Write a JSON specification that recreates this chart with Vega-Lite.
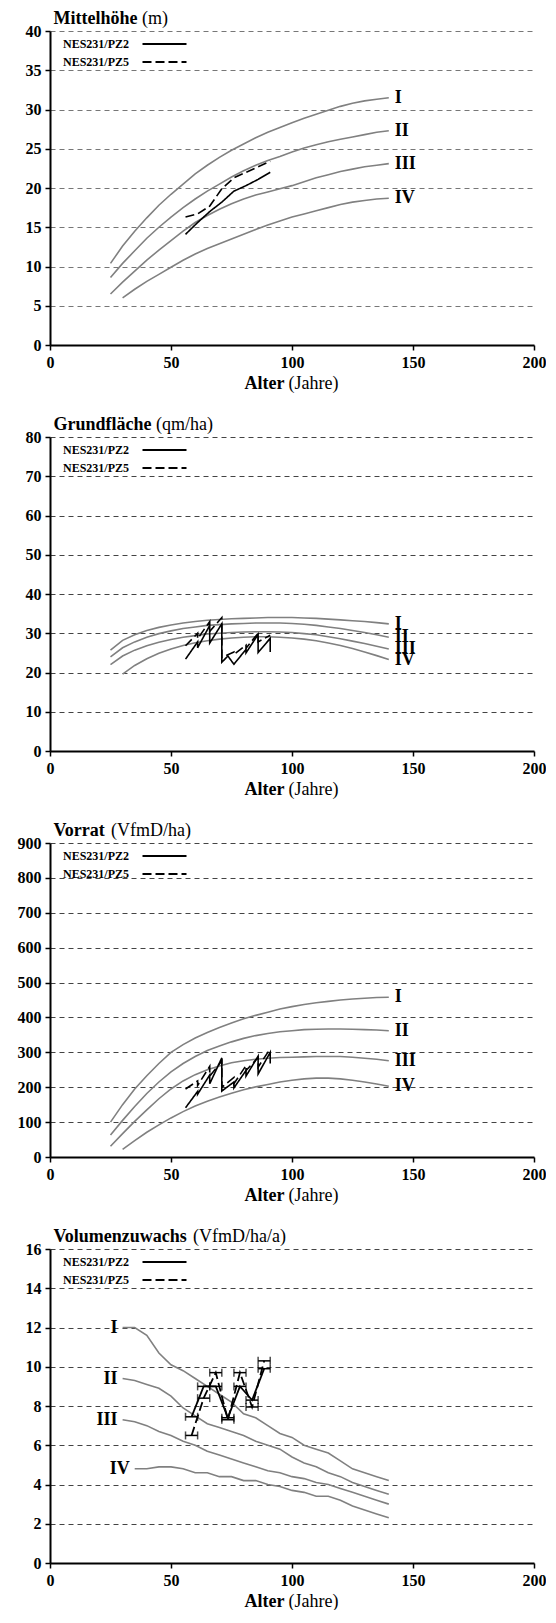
{
"$schema": "https://vega.github.io/schema/vega-lite/v6.json",
"padding": {"left": 17, "top": 9, "right": 0, "bottom": 0},
"background": "white",
"config": {
 "font": "Liberation Serif",
 "view": {"stroke": null},
 "axis": {"labelFont": "Liberation Serif", "labelFontWeight": "bold", "labelFontSize": 16, "labelColor": "black", "domainColor": "black", "domainWidth": 2, "tickColor": "black", "tickWidth": 1.5, "tickSize": 5, "labelPadding": 4, "titleFont": "Liberation Serif", "titleFontSize": 18, "titleColor": "black"},
 "axisX": {"grid": false, "labelFlush": false, "labelFont": "Liberation Serif", "titleFont": "Liberation Serif"},
 "axisY": {"grid": true, "gridDash": [5, 4], "gridColor": "#444", "gridWidth": 1, "labelFont": "Liberation Serif", "titleFont": "Liberation Serif"},
 "text": {"font": "Liberation Serif", "fontSize": 18, "fontWeight": "bold", "color": "black"},
 "legend": {"orient": "none", "legendX": 108, "legendY": 6.5, "title": null, "symbolType": "M-4,0H4", "symbolSize": 121, "symbolStrokeWidth": 2, "symbolStrokeColor": "black", "symbolFillColor": "transparent", "labelOffset": -42, "labelAlign": "right", "labelFont": "Liberation Serif", "labelFontSize": 12, "labelFontWeight": "bold", "labelColor": "black", "rowPadding": 5, "padding": 0}
},
"datasets": {
 "h_c": [
  {"k":"I","a":25,"v":10.4},{"k":"I","a":30,"v":12.6},{"k":"I","a":35,"v":14.5},{"k":"I","a":40,"v":16.2},{"k":"I","a":45,"v":17.8},{"k":"I","a":50,"v":19.2},{"k":"I","a":55,"v":20.5},{"k":"I","a":60,"v":21.8},{"k":"I","a":65,"v":22.9},{"k":"I","a":70,"v":23.9},{"k":"I","a":75,"v":24.8},{"k":"I","a":80,"v":25.6},{"k":"I","a":85,"v":26.4},{"k":"I","a":90,"v":27.1},{"k":"I","a":95,"v":27.7},{"k":"I","a":100,"v":28.3},{"k":"I","a":105,"v":28.9},{"k":"I","a":110,"v":29.4},{"k":"I","a":115,"v":29.9},{"k":"I","a":120,"v":30.4},{"k":"I","a":125,"v":30.8},{"k":"I","a":130,"v":31.1},{"k":"I","a":135,"v":31.3},{"k":"I","a":140,"v":31.5},
  {"k":"II","a":25,"v":8.6},{"k":"II","a":30,"v":10.4},{"k":"II","a":35,"v":12.0},{"k":"II","a":40,"v":13.6},{"k":"II","a":45,"v":15.0},{"k":"II","a":50,"v":16.3},{"k":"II","a":55,"v":17.5},{"k":"II","a":60,"v":18.6},{"k":"II","a":65,"v":19.6},{"k":"II","a":70,"v":20.5},{"k":"II","a":75,"v":21.4},{"k":"II","a":80,"v":22.2},{"k":"II","a":85,"v":22.9},{"k":"II","a":90,"v":23.5},{"k":"II","a":95,"v":24.0},{"k":"II","a":100,"v":24.6},{"k":"II","a":105,"v":25.1},{"k":"II","a":110,"v":25.5},{"k":"II","a":115,"v":25.9},{"k":"II","a":120,"v":26.2},{"k":"II","a":125,"v":26.5},{"k":"II","a":130,"v":26.8},{"k":"II","a":135,"v":27.1},{"k":"II","a":140,"v":27.3},
  {"k":"III","a":25,"v":6.5},{"k":"III","a":30,"v":8.0},{"k":"III","a":35,"v":9.4},{"k":"III","a":40,"v":10.8},{"k":"III","a":45,"v":12.1},{"k":"III","a":50,"v":13.3},{"k":"III","a":55,"v":14.5},{"k":"III","a":60,"v":15.6},{"k":"III","a":65,"v":16.5},{"k":"III","a":70,"v":17.3},{"k":"III","a":75,"v":18.0},{"k":"III","a":80,"v":18.6},{"k":"III","a":85,"v":19.1},{"k":"III","a":90,"v":19.5},{"k":"III","a":95,"v":19.9},{"k":"III","a":100,"v":20.3},{"k":"III","a":105,"v":20.8},{"k":"III","a":110,"v":21.3},{"k":"III","a":115,"v":21.7},{"k":"III","a":120,"v":22.1},{"k":"III","a":125,"v":22.4},{"k":"III","a":130,"v":22.7},{"k":"III","a":135,"v":22.9},{"k":"III","a":140,"v":23.1},
  {"k":"IV","a":30,"v":6.0},{"k":"IV","a":35,"v":7.1},{"k":"IV","a":40,"v":8.1},{"k":"IV","a":45,"v":9.0},{"k":"IV","a":50,"v":9.9},{"k":"IV","a":55,"v":10.8},{"k":"IV","a":60,"v":11.6},{"k":"IV","a":65,"v":12.3},{"k":"IV","a":70,"v":12.9},{"k":"IV","a":75,"v":13.5},{"k":"IV","a":80,"v":14.1},{"k":"IV","a":85,"v":14.7},{"k":"IV","a":90,"v":15.3},{"k":"IV","a":95,"v":15.8},{"k":"IV","a":100,"v":16.3},{"k":"IV","a":105,"v":16.7},{"k":"IV","a":110,"v":17.1},{"k":"IV","a":115,"v":17.5},{"k":"IV","a":120,"v":17.9},{"k":"IV","a":125,"v":18.2},{"k":"IV","a":130,"v":18.4},{"k":"IV","a":135,"v":18.6},{"k":"IV","a":140,"v":18.7}
 ],
 "h_p": [
  {"s":"NES231/PZ2","o":1,"a":56,"v":14.1},{"s":"NES231/PZ2","o":2,"a":61,"v":15.6},{"s":"NES231/PZ2","o":3,"a":66,"v":17.0},{"s":"NES231/PZ2","o":4,"a":71,"v":18.2},{"s":"NES231/PZ2","o":5,"a":76,"v":19.6},{"s":"NES231/PZ2","o":6,"a":81,"v":20.3},{"s":"NES231/PZ2","o":7,"a":86,"v":21.1},{"s":"NES231/PZ2","o":8,"a":91,"v":22.0},
  {"s":"NES231/PZ5","o":1,"a":56,"v":16.3},{"s":"NES231/PZ5","o":2,"a":61,"v":16.7},{"s":"NES231/PZ5","o":3,"a":66,"v":17.7},{"s":"NES231/PZ5","o":4,"a":71,"v":19.9},{"s":"NES231/PZ5","o":5,"a":76,"v":21.3},{"s":"NES231/PZ5","o":6,"a":81,"v":22.0},{"s":"NES231/PZ5","o":7,"a":86,"v":22.7},{"s":"NES231/PZ5","o":8,"a":91,"v":23.4}
 ],
 "g_c": [
  {"k":"I","a":25,"v":25.7},{"k":"I","a":30,"v":28.2},{"k":"I","a":35,"v":29.6},{"k":"I","a":40,"v":30.7},{"k":"I","a":45,"v":31.5},{"k":"I","a":50,"v":32.1},{"k":"I","a":55,"v":32.6},{"k":"I","a":60,"v":33.0},{"k":"I","a":65,"v":33.3},{"k":"I","a":70,"v":33.5},{"k":"I","a":75,"v":33.7},{"k":"I","a":80,"v":33.8},{"k":"I","a":85,"v":33.9},{"k":"I","a":90,"v":34.0},{"k":"I","a":95,"v":34.0},{"k":"I","a":100,"v":34.0},{"k":"I","a":105,"v":33.9},{"k":"I","a":110,"v":33.8},{"k":"I","a":115,"v":33.6},{"k":"I","a":120,"v":33.4},{"k":"I","a":125,"v":33.2},{"k":"I","a":130,"v":33.0},{"k":"I","a":135,"v":32.7},{"k":"I","a":140,"v":32.4},
  {"k":"II","a":25,"v":24.0},{"k":"II","a":30,"v":26.3},{"k":"II","a":35,"v":27.8},{"k":"II","a":40,"v":29.0},{"k":"II","a":45,"v":29.9},{"k":"II","a":50,"v":30.6},{"k":"II","a":55,"v":31.2},{"k":"II","a":60,"v":31.6},{"k":"II","a":65,"v":32.0},{"k":"II","a":70,"v":32.2},{"k":"II","a":75,"v":32.4},{"k":"II","a":80,"v":32.5},{"k":"II","a":85,"v":32.6},{"k":"II","a":90,"v":32.6},{"k":"II","a":95,"v":32.6},{"k":"II","a":100,"v":32.5},{"k":"II","a":105,"v":32.3},{"k":"II","a":110,"v":32.0},{"k":"II","a":115,"v":31.6},{"k":"II","a":120,"v":31.2},{"k":"II","a":125,"v":30.7},{"k":"II","a":130,"v":30.2},{"k":"II","a":135,"v":29.6},{"k":"II","a":140,"v":29.0},
  {"k":"III","a":25,"v":22.0},{"k":"III","a":30,"v":24.2},{"k":"III","a":35,"v":25.7},{"k":"III","a":40,"v":26.8},{"k":"III","a":45,"v":27.7},{"k":"III","a":50,"v":28.4},{"k":"III","a":55,"v":29.0},{"k":"III","a":60,"v":29.4},{"k":"III","a":65,"v":29.8},{"k":"III","a":70,"v":30.0},{"k":"III","a":75,"v":30.2},{"k":"III","a":80,"v":30.3},{"k":"III","a":85,"v":30.4},{"k":"III","a":90,"v":30.4},{"k":"III","a":95,"v":30.3},{"k":"III","a":100,"v":30.2},{"k":"III","a":105,"v":29.9},{"k":"III","a":110,"v":29.6},{"k":"III","a":115,"v":29.1},{"k":"III","a":120,"v":28.6},{"k":"III","a":125,"v":28.0},{"k":"III","a":130,"v":27.4},{"k":"III","a":135,"v":26.7},{"k":"III","a":140,"v":26.0},
  {"k":"IV","a":30,"v":19.6},{"k":"IV","a":35,"v":21.8},{"k":"IV","a":40,"v":23.5},{"k":"IV","a":45,"v":24.9},{"k":"IV","a":50,"v":26.0},{"k":"IV","a":55,"v":26.9},{"k":"IV","a":60,"v":27.6},{"k":"IV","a":65,"v":28.1},{"k":"IV","a":70,"v":28.5},{"k":"IV","a":75,"v":28.8},{"k":"IV","a":80,"v":29.0},{"k":"IV","a":85,"v":29.1},{"k":"IV","a":90,"v":29.1},{"k":"IV","a":95,"v":29.0},{"k":"IV","a":100,"v":28.8},{"k":"IV","a":105,"v":28.5},{"k":"IV","a":110,"v":28.1},{"k":"IV","a":115,"v":27.5},{"k":"IV","a":120,"v":26.9},{"k":"IV","a":125,"v":26.1},{"k":"IV","a":130,"v":25.2},{"k":"IV","a":135,"v":24.3},{"k":"IV","a":140,"v":23.3}
 ],
 "g_p": [
  {"s":"NES231/PZ2","o":1,"a":56,"v":23.4},{"s":"NES231/PZ2","o":2,"a":61,"v":27.8},{"s":"NES231/PZ2","o":3,"a":61,"v":26.3},{"s":"NES231/PZ2","o":4,"a":66,"v":32.0},{"s":"NES231/PZ2","o":5,"a":66,"v":27.5},{"s":"NES231/PZ2","o":6,"a":71,"v":32.4},{"s":"NES231/PZ2","o":7,"a":71,"v":22.6},{"s":"NES231/PZ2","o":8,"a":73.5,"v":24.2},{"s":"NES231/PZ2","o":9,"a":76,"v":22.1},{"s":"NES231/PZ2","o":10,"a":81,"v":25.9},{"s":"NES231/PZ2","o":11,"a":81,"v":25.0},{"s":"NES231/PZ2","o":12,"a":86,"v":29.7},{"s":"NES231/PZ2","o":13,"a":86,"v":25.1},{"s":"NES231/PZ2","o":14,"a":91,"v":28.7},{"s":"NES231/PZ2","o":15,"a":91,"v":25.2},
  {"s":"NES231/PZ5","o":1,"a":56,"v":26.8},{"s":"NES231/PZ5","o":2,"a":61,"v":30.0},{"s":"NES231/PZ5","o":3,"a":61,"v":28.6},{"s":"NES231/PZ5","o":4,"a":66,"v":33.0},{"s":"NES231/PZ5","o":5,"a":66,"v":30.5},{"s":"NES231/PZ5","o":6,"a":71,"v":34.0},{"s":"NES231/PZ5","o":7,"a":71,"v":23.8},{"s":"NES231/PZ5","o":8,"a":76,"v":25.2},{"s":"NES231/PZ5","o":9,"a":76,"v":24.6},{"s":"NES231/PZ5","o":10,"a":81,"v":27.0},{"s":"NES231/PZ5","o":11,"a":81,"v":26.2},{"s":"NES231/PZ5","o":12,"a":86,"v":30.0},{"s":"NES231/PZ5","o":13,"a":86,"v":27.8},{"s":"NES231/PZ5","o":14,"a":91,"v":29.5}
 ],
 "v_c": [
  {"k":"I","a":25,"v":100},{"k":"I","a":30,"v":150},{"k":"I","a":35,"v":195},{"k":"I","a":40,"v":233},{"k":"I","a":45,"v":268},{"k":"I","a":50,"v":300},{"k":"I","a":55,"v":322},{"k":"I","a":60,"v":341},{"k":"I","a":65,"v":357},{"k":"I","a":70,"v":371},{"k":"I","a":75,"v":384},{"k":"I","a":80,"v":396},{"k":"I","a":85,"v":406},{"k":"I","a":90,"v":415},{"k":"I","a":95,"v":424},{"k":"I","a":100,"v":431},{"k":"I","a":105,"v":437},{"k":"I","a":110,"v":442},{"k":"I","a":115,"v":446},{"k":"I","a":120,"v":450},{"k":"I","a":125,"v":453},{"k":"I","a":130,"v":455},{"k":"I","a":135,"v":457},{"k":"I","a":140,"v":458},
  {"k":"II","a":25,"v":63},{"k":"II","a":30,"v":105},{"k":"II","a":35,"v":145},{"k":"II","a":40,"v":182},{"k":"II","a":45,"v":215},{"k":"II","a":50,"v":244},{"k":"II","a":55,"v":268},{"k":"II","a":60,"v":288},{"k":"II","a":65,"v":305},{"k":"II","a":70,"v":318},{"k":"II","a":75,"v":330},{"k":"II","a":80,"v":340},{"k":"II","a":85,"v":348},{"k":"II","a":90,"v":354},{"k":"II","a":95,"v":359},{"k":"II","a":100,"v":362},{"k":"II","a":105,"v":365},{"k":"II","a":110,"v":366},{"k":"II","a":115,"v":367},{"k":"II","a":120,"v":367},{"k":"II","a":125,"v":366},{"k":"II","a":130,"v":365},{"k":"II","a":135,"v":364},{"k":"II","a":140,"v":362},
  {"k":"III","a":25,"v":31},{"k":"III","a":30,"v":67},{"k":"III","a":35,"v":102},{"k":"III","a":40,"v":135},{"k":"III","a":45,"v":167},{"k":"III","a":50,"v":195},{"k":"III","a":55,"v":218},{"k":"III","a":60,"v":236},{"k":"III","a":65,"v":250},{"k":"III","a":70,"v":261},{"k":"III","a":75,"v":270},{"k":"III","a":80,"v":276},{"k":"III","a":85,"v":280},{"k":"III","a":90,"v":283},{"k":"III","a":95,"v":285},{"k":"III","a":100,"v":286},{"k":"III","a":105,"v":287},{"k":"III","a":110,"v":288},{"k":"III","a":115,"v":288},{"k":"III","a":120,"v":288},{"k":"III","a":125,"v":286},{"k":"III","a":130,"v":283},{"k":"III","a":135,"v":280},{"k":"III","a":140,"v":276},
  {"k":"IV","a":30,"v":22},{"k":"IV","a":35,"v":47},{"k":"IV","a":40,"v":71},{"k":"IV","a":45,"v":92},{"k":"IV","a":50,"v":112},{"k":"IV","a":55,"v":130},{"k":"IV","a":60,"v":146},{"k":"IV","a":65,"v":160},{"k":"IV","a":70,"v":172},{"k":"IV","a":75,"v":183},{"k":"IV","a":80,"v":193},{"k":"IV","a":85,"v":201},{"k":"IV","a":90,"v":208},{"k":"IV","a":95,"v":215},{"k":"IV","a":100,"v":220},{"k":"IV","a":105,"v":224},{"k":"IV","a":110,"v":226},{"k":"IV","a":115,"v":226},{"k":"IV","a":120,"v":224},{"k":"IV","a":125,"v":220},{"k":"IV","a":130,"v":215},{"k":"IV","a":135,"v":209},{"k":"IV","a":140,"v":203}
 ],
 "v_p": [
  {"s":"NES231/PZ2","o":1,"a":56,"v":141},{"s":"NES231/PZ2","o":2,"a":61,"v":188},{"s":"NES231/PZ2","o":3,"a":61,"v":180},{"s":"NES231/PZ2","o":4,"a":66,"v":235},{"s":"NES231/PZ2","o":5,"a":66,"v":210},{"s":"NES231/PZ2","o":6,"a":71,"v":284},{"s":"NES231/PZ2","o":7,"a":71,"v":189},{"s":"NES231/PZ2","o":8,"a":76,"v":215},{"s":"NES231/PZ2","o":9,"a":76,"v":198},{"s":"NES231/PZ2","o":10,"a":81,"v":248},{"s":"NES231/PZ2","o":11,"a":81,"v":232},{"s":"NES231/PZ2","o":12,"a":86,"v":289},{"s":"NES231/PZ2","o":13,"a":86,"v":238},{"s":"NES231/PZ2","o":14,"a":91,"v":300},{"s":"NES231/PZ2","o":15,"a":91,"v":268},
  {"s":"NES231/PZ5","o":1,"a":56,"v":195},{"s":"NES231/PZ5","o":2,"a":61,"v":218},{"s":"NES231/PZ5","o":3,"a":61,"v":205},{"s":"NES231/PZ5","o":4,"a":66,"v":260},{"s":"NES231/PZ5","o":5,"a":66,"v":232},{"s":"NES231/PZ5","o":6,"a":71,"v":275},{"s":"NES231/PZ5","o":7,"a":71,"v":200},{"s":"NES231/PZ5","o":8,"a":76,"v":228},{"s":"NES231/PZ5","o":9,"a":76,"v":210},{"s":"NES231/PZ5","o":10,"a":81,"v":262},{"s":"NES231/PZ5","o":11,"a":81,"v":248},{"s":"NES231/PZ5","o":12,"a":86,"v":285},{"s":"NES231/PZ5","o":13,"a":86,"v":258},{"s":"NES231/PZ5","o":14,"a":91,"v":310}
 ],
 "z_c": [
  {"k":"I","a":30,"v":12.0},{"k":"I","a":35,"v":12.0},{"k":"I","a":40,"v":11.6},{"k":"I","a":45,"v":10.7},{"k":"I","a":50,"v":10.1},{"k":"I","a":55,"v":9.8},{"k":"I","a":60,"v":9.4},{"k":"I","a":65,"v":9.0},{"k":"I","a":70,"v":8.6},{"k":"I","a":75,"v":8.2},{"k":"I","a":80,"v":7.6},{"k":"I","a":85,"v":7.4},{"k":"I","a":90,"v":7.0},{"k":"I","a":95,"v":6.6},{"k":"I","a":100,"v":6.4},{"k":"I","a":105,"v":6.0},{"k":"I","a":110,"v":5.8},{"k":"I","a":115,"v":5.6},{"k":"I","a":120,"v":5.2},{"k":"I","a":125,"v":4.8},{"k":"I","a":130,"v":4.6},{"k":"I","a":135,"v":4.4},{"k":"I","a":140,"v":4.2},
  {"k":"II","a":30,"v":9.4},{"k":"II","a":35,"v":9.3},{"k":"II","a":40,"v":9.1},{"k":"II","a":45,"v":8.9},{"k":"II","a":50,"v":8.5},{"k":"II","a":55,"v":7.9},{"k":"II","a":60,"v":7.5},{"k":"II","a":65,"v":7.1},{"k":"II","a":70,"v":6.9},{"k":"II","a":75,"v":6.7},{"k":"II","a":80,"v":6.5},{"k":"II","a":85,"v":6.2},{"k":"II","a":90,"v":6.0},{"k":"II","a":95,"v":5.8},{"k":"II","a":100,"v":5.4},{"k":"II","a":105,"v":5.1},{"k":"II","a":110,"v":4.9},{"k":"II","a":115,"v":4.6},{"k":"II","a":120,"v":4.4},{"k":"II","a":125,"v":4.1},{"k":"II","a":130,"v":3.9},{"k":"II","a":135,"v":3.7},{"k":"II","a":140,"v":3.5},
  {"k":"III","a":30,"v":7.3},{"k":"III","a":35,"v":7.2},{"k":"III","a":40,"v":7.0},{"k":"III","a":45,"v":6.7},{"k":"III","a":50,"v":6.5},{"k":"III","a":55,"v":6.2},{"k":"III","a":60,"v":6.0},{"k":"III","a":65,"v":5.7},{"k":"III","a":70,"v":5.5},{"k":"III","a":75,"v":5.3},{"k":"III","a":80,"v":5.1},{"k":"III","a":85,"v":4.9},{"k":"III","a":90,"v":4.7},{"k":"III","a":95,"v":4.6},{"k":"III","a":100,"v":4.4},{"k":"III","a":105,"v":4.3},{"k":"III","a":110,"v":4.1},{"k":"III","a":115,"v":4.0},{"k":"III","a":120,"v":3.8},{"k":"III","a":125,"v":3.6},{"k":"III","a":130,"v":3.4},{"k":"III","a":135,"v":3.2},{"k":"III","a":140,"v":3.0},
  {"k":"IV","a":35,"v":4.8},{"k":"IV","a":40,"v":4.8},{"k":"IV","a":45,"v":4.9},{"k":"IV","a":50,"v":4.9},{"k":"IV","a":55,"v":4.8},{"k":"IV","a":60,"v":4.6},{"k":"IV","a":65,"v":4.6},{"k":"IV","a":70,"v":4.4},{"k":"IV","a":75,"v":4.4},{"k":"IV","a":80,"v":4.2},{"k":"IV","a":85,"v":4.2},{"k":"IV","a":90,"v":4.0},{"k":"IV","a":95,"v":3.9},{"k":"IV","a":100,"v":3.7},{"k":"IV","a":105,"v":3.6},{"k":"IV","a":110,"v":3.4},{"k":"IV","a":115,"v":3.4},{"k":"IV","a":120,"v":3.2},{"k":"IV","a":125,"v":2.9},{"k":"IV","a":130,"v":2.7},{"k":"IV","a":135,"v":2.5},{"k":"IV","a":140,"v":2.3}
 ],
 "z_p": [
  {"s":"NES231/PZ2","o":1,"a":58.5,"lo":56,"hi":61,"v":7.45},{"s":"NES231/PZ2","o":2,"a":63.5,"lo":61,"hi":66,"v":9.0},{"s":"NES231/PZ2","o":3,"a":68.5,"lo":66,"hi":71,"v":9.0},{"s":"NES231/PZ2","o":4,"a":73.5,"lo":71,"hi":76,"v":7.4},{"s":"NES231/PZ2","o":5,"a":78.5,"lo":76,"hi":81,"v":9.0},{"s":"NES231/PZ2","o":6,"a":83.5,"lo":81,"hi":86,"v":8.3},{"s":"NES231/PZ2","o":7,"a":88.5,"lo":86,"hi":91,"v":9.9},
  {"s":"NES231/PZ5","o":1,"a":58.5,"lo":56,"hi":61,"v":6.5},{"s":"NES231/PZ5","o":2,"a":63.5,"lo":61,"hi":66,"v":8.4},{"s":"NES231/PZ5","o":3,"a":68.5,"lo":66,"hi":71,"v":9.7},{"s":"NES231/PZ5","o":4,"a":73.5,"lo":71,"hi":76,"v":7.3},{"s":"NES231/PZ5","o":5,"a":78.5,"lo":76,"hi":81,"v":9.7},{"s":"NES231/PZ5","o":6,"a":83.5,"lo":81,"hi":86,"v":7.95},{"s":"NES231/PZ5","o":7,"a":88.5,"lo":86,"hi":91,"v":10.3}
 ]
},
"spacing": 92,
"bounds": "flush",
"resolve": {"scale": {"strokeDash": "independent"}, "legend": {"strokeDash": "independent"}},
"vconcat": [
 {
  "width": 484, "height": 314,
  "resolve": {"axis": {"x": "independent", "y": "independent"}},
  "layer": [
   {"data": {"name": "h_c"}, "mark": {"type": "line", "color": "#808080", "strokeWidth": 1.6},
    "encoding": {
     "x": {"field": "a", "type": "quantitative", "scale": {"domain": [0, 200], "nice": false}, "axis": {"values": [0, 50, 100, 150, 200], "title": "Alter", "titleFontWeight": "bold", "titleAlign": "right", "titleBaseline": "alphabetic", "titleX": 234, "titleY": 43}},
     "y": {"field": "v", "type": "quantitative", "scale": {"domain": [0, 40], "nice": false}, "axis": {"values": [0, 5, 10, 15, 20, 25, 30, 35, 40], "gridColor": "#777", "title": "Mittelhöhe", "titleFontWeight": "bold", "titleAngle": 0, "titleAlign": "left", "titleBaseline": "alphabetic", "titleX": 3, "titleY": -8}},
     "detail": {"field": "k"}}},
   {"data": {"name": "h_c"}, "transform": [{"joinaggregate": [{"op": "max", "field": "a", "as": "m"}], "groupby": ["k"]}, {"filter": "datum.a == datum.m"}],
    "mark": {"type": "text", "align": "left", "baseline": "middle", "dx": 6},
    "encoding": {
     "x": {"field": "a", "type": "quantitative", "scale": {"domain": [0, 200], "nice": false}, "axis": null},
     "y": {"field": "v", "type": "quantitative", "scale": {"domain": [0, 40], "nice": false}, "axis": null},
     "text": {"field": "k"}}},
   {"data": {"name": "h_p"}, "mark": {"type": "line", "color": "black", "strokeWidth": 1.6},
    "encoding": {
     "x": {"field": "a", "type": "quantitative", "scale": {"domain": [0, 200], "nice": false}, "axis": {"orient": "bottom", "labels": false, "ticks": false, "domain": false, "grid": false, "title": "(Jahre)", "titleFontWeight": "normal", "titleAlign": "left", "titleBaseline": "alphabetic", "titleX": 238, "titleY": 43}},
     "y": {"field": "v", "type": "quantitative", "scale": {"domain": [0, 40], "nice": false}, "axis": {"orient": "left", "labels": false, "ticks": false, "domain": false, "grid": false, "title": "(m)", "titleFontWeight": "normal", "titleAngle": 0, "titleAlign": "left", "titleBaseline": "alphabetic", "titleX": 91.5, "titleY": -8}},
     "order": {"field": "o"},
     "strokeDash": {"field": "s", "type": "nominal", "scale": {"domain": ["NES231/PZ2", "NES231/PZ5"], "range": [[1, 0], [9, 4]]}}}}
  ]
 },
 {
  "width": 484, "height": 314,
  "resolve": {"axis": {"x": "independent", "y": "independent"}},
  "layer": [
   {"data": {"name": "g_c"}, "mark": {"type": "line", "color": "#808080", "strokeWidth": 1.6},
    "encoding": {
     "x": {"field": "a", "type": "quantitative", "scale": {"domain": [0, 200], "nice": false}, "axis": {"values": [0, 50, 100, 150, 200], "title": "Alter", "titleFontWeight": "bold", "titleAlign": "right", "titleBaseline": "alphabetic", "titleX": 234, "titleY": 43}},
     "y": {"field": "v", "type": "quantitative", "scale": {"domain": [0, 80], "nice": false}, "axis": {"values": [0, 10, 20, 30, 40, 50, 60, 70, 80], "title": "Grundfläche", "titleFontWeight": "bold", "titleAngle": 0, "titleAlign": "left", "titleBaseline": "alphabetic", "titleX": 3, "titleY": -8}},
     "detail": {"field": "k"}}},
   {"data": {"name": "g_c"}, "transform": [{"joinaggregate": [{"op": "max", "field": "a", "as": "m"}], "groupby": ["k"]}, {"filter": "datum.a == datum.m"}],
    "mark": {"type": "text", "align": "left", "baseline": "middle", "dx": 6},
    "encoding": {
     "x": {"field": "a", "type": "quantitative", "scale": {"domain": [0, 200], "nice": false}, "axis": null},
     "y": {"field": "v", "type": "quantitative", "scale": {"domain": [0, 80], "nice": false}, "axis": null},
     "text": {"field": "k"}}},
   {"data": {"name": "g_p"}, "mark": {"type": "line", "color": "black", "strokeWidth": 1.6},
    "encoding": {
     "x": {"field": "a", "type": "quantitative", "scale": {"domain": [0, 200], "nice": false}, "axis": {"orient": "bottom", "labels": false, "ticks": false, "domain": false, "grid": false, "title": "(Jahre)", "titleFontWeight": "normal", "titleAlign": "left", "titleBaseline": "alphabetic", "titleX": 238, "titleY": 43}},
     "y": {"field": "v", "type": "quantitative", "scale": {"domain": [0, 80], "nice": false}, "axis": {"orient": "left", "labels": false, "ticks": false, "domain": false, "grid": false, "title": "(qm/ha)", "titleFontWeight": "normal", "titleAngle": 0, "titleAlign": "left", "titleBaseline": "alphabetic", "titleX": 105.5, "titleY": -8}},
     "order": {"field": "o"},
     "strokeDash": {"field": "s", "type": "nominal", "scale": {"domain": ["NES231/PZ2", "NES231/PZ5"], "range": [[1, 0], [9, 4]]}}}}
  ]
 },
 {
  "width": 484, "height": 314,
  "resolve": {"axis": {"x": "independent", "y": "independent"}},
  "layer": [
   {"data": {"name": "v_c"}, "mark": {"type": "line", "color": "#808080", "strokeWidth": 1.6},
    "encoding": {
     "x": {"field": "a", "type": "quantitative", "scale": {"domain": [0, 200], "nice": false}, "axis": {"values": [0, 50, 100, 150, 200], "title": "Alter", "titleFontWeight": "bold", "titleAlign": "right", "titleBaseline": "alphabetic", "titleX": 234, "titleY": 43}},
     "y": {"field": "v", "type": "quantitative", "scale": {"domain": [0, 900], "nice": false}, "axis": {"values": [0, 100, 200, 300, 400, 500, 600, 700, 800, 900], "title": "Vorrat", "titleFontWeight": "bold", "titleAngle": 0, "titleAlign": "left", "titleBaseline": "alphabetic", "titleX": 3, "titleY": -8}},
     "detail": {"field": "k"}}},
   {"data": {"name": "v_c"}, "transform": [{"joinaggregate": [{"op": "max", "field": "a", "as": "m"}], "groupby": ["k"]}, {"filter": "datum.a == datum.m"}],
    "mark": {"type": "text", "align": "left", "baseline": "middle", "dx": 6},
    "encoding": {
     "x": {"field": "a", "type": "quantitative", "scale": {"domain": [0, 200], "nice": false}, "axis": null},
     "y": {"field": "v", "type": "quantitative", "scale": {"domain": [0, 900], "nice": false}, "axis": null},
     "text": {"field": "k"}}},
   {"data": {"name": "v_p"}, "mark": {"type": "line", "color": "black", "strokeWidth": 1.6},
    "encoding": {
     "x": {"field": "a", "type": "quantitative", "scale": {"domain": [0, 200], "nice": false}, "axis": {"orient": "bottom", "labels": false, "ticks": false, "domain": false, "grid": false, "title": "(Jahre)", "titleFontWeight": "normal", "titleAlign": "left", "titleBaseline": "alphabetic", "titleX": 238, "titleY": 43}},
     "y": {"field": "v", "type": "quantitative", "scale": {"domain": [0, 900], "nice": false}, "axis": {"orient": "left", "labels": false, "ticks": false, "domain": false, "grid": false, "title": "(VfmD/ha)", "titleFontWeight": "normal", "titleAngle": 0, "titleAlign": "left", "titleBaseline": "alphabetic", "titleX": 60.5, "titleY": -8}},
     "order": {"field": "o"},
     "strokeDash": {"field": "s", "type": "nominal", "scale": {"domain": ["NES231/PZ2", "NES231/PZ5"], "range": [[1, 0], [9, 4]]}}}}
  ]
 },
 {
  "width": 484, "height": 314,
  "resolve": {"axis": {"x": "independent", "y": "independent"}},
  "layer": [
   {"data": {"name": "z_c"}, "mark": {"type": "line", "color": "#808080", "strokeWidth": 1.6},
    "encoding": {
     "x": {"field": "a", "type": "quantitative", "scale": {"domain": [0, 200], "nice": false}, "axis": {"values": [0, 50, 100, 150, 200], "title": "Alter", "titleFontWeight": "bold", "titleAlign": "right", "titleBaseline": "alphabetic", "titleX": 234, "titleY": 43}},
     "y": {"field": "v", "type": "quantitative", "scale": {"domain": [0, 16], "nice": false}, "axis": {"values": [0, 2, 4, 6, 8, 10, 12, 14, 16], "title": "Volumenzuwachs", "titleFontWeight": "bold", "titleAngle": 0, "titleAlign": "left", "titleBaseline": "alphabetic", "titleX": 3, "titleY": -8}},
     "detail": {"field": "k"}}},
   {"data": {"name": "z_c"}, "transform": [{"joinaggregate": [{"op": "min", "field": "a", "as": "m"}], "groupby": ["k"]}, {"filter": "datum.a == datum.m"}],
    "mark": {"type": "text", "align": "right", "baseline": "middle", "dx": -5},
    "encoding": {
     "x": {"field": "a", "type": "quantitative", "scale": {"domain": [0, 200], "nice": false}, "axis": null},
     "y": {"field": "v", "type": "quantitative", "scale": {"domain": [0, 16], "nice": false}, "axis": null},
     "text": {"field": "k"}}},
   {"data": {"name": "z_p"}, "mark": {"type": "errorbar", "color": "black", "thickness": 1.5, "ticks": {"size": 8, "thickness": 1.5}},
    "encoding": {
     "x": {"field": "lo", "type": "quantitative", "scale": {"domain": [0, 200], "nice": false}, "axis": null},
     "x2": {"field": "hi"},
     "y": {"field": "v", "type": "quantitative", "scale": {"domain": [0, 16], "nice": false}, "axis": null}}},
   {"data": {"name": "z_p"}, "mark": {"type": "line", "color": "black", "strokeWidth": 1.8},
    "encoding": {
     "x": {"field": "a", "type": "quantitative", "scale": {"domain": [0, 200], "nice": false}, "axis": {"orient": "bottom", "labels": false, "ticks": false, "domain": false, "grid": false, "title": "(Jahre)", "titleFontWeight": "normal", "titleAlign": "left", "titleBaseline": "alphabetic", "titleX": 238, "titleY": 43}},
     "y": {"field": "v", "type": "quantitative", "scale": {"domain": [0, 16], "nice": false}, "axis": {"orient": "left", "labels": false, "ticks": false, "domain": false, "grid": false, "title": "(VfmD/ha/a)", "titleFontWeight": "normal", "titleAngle": 0, "titleAlign": "left", "titleBaseline": "alphabetic", "titleX": 142.5, "titleY": -8}},
     "order": {"field": "o"},
     "strokeDash": {"field": "s", "type": "nominal", "scale": {"domain": ["NES231/PZ2", "NES231/PZ5"], "range": [[1, 0], [9, 4]]}}}}
  ]
 }
]
}
